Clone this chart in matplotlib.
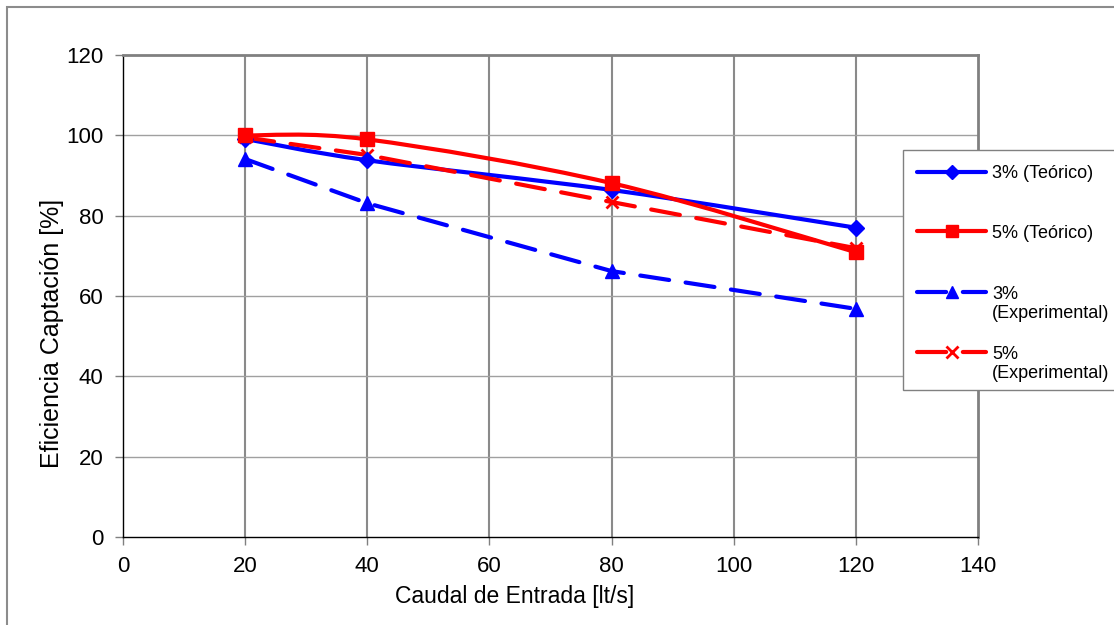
import numpy as np
import matplotlib
matplotlib.use("Agg")
import matplotlib.pyplot as plt
from matplotlib.path import Path
from matplotlib.patches import PathPatch, Rectangle
from matplotlib.lines import Line2D

plt.rcParams['font.family'] = ['Liberation Sans', 'DejaVu Sans']

caudal = [20, 40, 80, 120]
teo_3 = [99.1, 93.8, 86.4, 77.0]
teo_5 = [100.0, 99.0, 88.1, 70.9]
exp_3 = [94.1, 83.1, 66.2, 56.8]
exp_5 = [99.5, 95.1, 83.4, 71.9]

labels = ["3% (Teórico)", "5% (Teórico)", "3%\n(Experimental)", "5%\n(Experimental)"]
xticks = [0, 20, 40, 60, 80, 100, 120, 140]
yticks = [0, 20, 40, 60, 80, 100, 120]

W, H = 1114, 625
fig = plt.figure(figsize=(W / 100, H / 100), dpi=100)
ax = fig.add_axes([123 / W, 1 - 537 / H, (978 - 123) / W, (537 - 55) / H])

BLUE = '#0000ff'
RED = '#ff0000'
LW = 3.0


def smooth_path(xs, ys):
    pts = np.column_stack([xs, ys]).astype(float)
    n = len(pts)
    verts = [pts[0]]
    codes = [Path.MOVETO]
    for i in range(n - 1):
        p_prev = pts[i - 1] if i > 0 else pts[i]
        p_next2 = pts[i + 2] if i + 2 < n else pts[i + 1]
        c1 = pts[i] + (pts[i + 1] - p_prev) / 6.0
        c2 = pts[i + 1] - (p_next2 - pts[i]) / 6.0
        verts += [c1, c2, pts[i + 1]]
        codes += [Path.CURVE4] * 3
    return Path(verts, codes)


dash = (7, 4)

# smoothed theoretical lines
for ys, col in [(teo_3, BLUE), (teo_5, RED)]:
    patch = PathPatch(smooth_path(caudal, ys), facecolor='none', edgecolor=col,
                      lw=LW, capstyle='round', joinstyle='round', zorder=3)
    ax.add_patch(patch)

ax.plot(caudal, exp_3, color=BLUE, lw=LW, dashes=dash, dash_capstyle='round',
        marker='^', ms=10, zorder=3)
ax.plot(caudal, exp_5, color=RED, lw=LW, dashes=dash, dash_capstyle='round',
        marker='x', ms=9, mew=2, zorder=3)
ax.plot(caudal, teo_3, ls='none', color=BLUE, marker='D', ms=8, zorder=4)
ax.plot(caudal, teo_5, ls='none', color=RED, marker='s', ms=10, zorder=4)

ax.set_xlim(0, 140)
ax.set_ylim(0, 120)
ax.set_xticks(xticks)
ax.set_yticks(yticks)
ax.tick_params(axis='both', direction='out', length=6, width=1, color='#808080',
               labelsize=16)
ax.tick_params(axis='x', pad=8)
ax.tick_params(axis='y', pad=8)
for t in ax.get_xticks():
    if 0 < t < 140:
        ax.axvline(t, color='#8a8a8a', lw=1.5, zorder=1)
for t in ax.get_yticks():
    if 0 < t < 120:
        ax.axhline(t, color='#a0a0a0', lw=1.0, zorder=1)

ax.spines['left'].set_color('black')
ax.spines['bottom'].set_color('black')
ax.spines['left'].set_linewidth(1.0)
ax.spines['bottom'].set_linewidth(1.0)
ax.spines['top'].set_color('#808080')
ax.spines['right'].set_color('#808080')
ax.spines['top'].set_linewidth(2.0)
ax.spines['right'].set_linewidth(2.0)

ax.set_xlabel("Caudal de Entrada [lt/s]", fontsize=16.5)
ax.set_ylabel("Eficiencia Captación [%]", fontsize=18)
ax.xaxis.set_label_coords((515 - 123) / 855, (537 - 585) / 482)
ax.yaxis.set_label_coords((64 - 123) / 855, (537 - 333) / 482)

# outer chart border
fig.add_artist(Rectangle((7 / W, -0.1), 1.2, 1 - 7 / H + 0.1, transform=fig.transFigure,
                         facecolor='none', edgecolor='#8c8c8c', lw=1.5, zorder=0))

# legend
fig.add_artist(Rectangle((903 / W, 1 - 390 / H), 0.3, (390 - 150) / H,
                         transform=fig.transFigure, facecolor='white',
                         edgecolor='#808080', lw=1.0, zorder=5))
styles = [
    dict(color=BLUE, marker='D', ms=7, ls='-'),
    dict(color=RED, marker='s', ms=9, ls='-'),
    dict(color=BLUE, marker='^', ms=9, dashes=dash),
    dict(color=RED, marker='x', ms=8, mew=2, dashes=dash),
]
rows = [172, 231, 292, 352]
for lab, st, ry in zip(labels, styles, rows):
    yf = 1 - ry / H
    ln = Line2D([917 / W, 951.5 / W, 986 / W], [yf, yf, yf], transform=fig.transFigure,
                lw=LW, markevery=[1], solid_capstyle='round', dash_capstyle='round',
                zorder=6, **st)
    fig.add_artist(ln)
    nlines = lab.count('\n') + 1
    ty = ry + 2 + (nlines - 1) * 10
    fig.text(992 / W, 1 - ty / H, lab, fontsize=13, va='center', ha='left',
             linespacing=1.1, zorder=7)

fig.savefig("out.png", dpi=100)
